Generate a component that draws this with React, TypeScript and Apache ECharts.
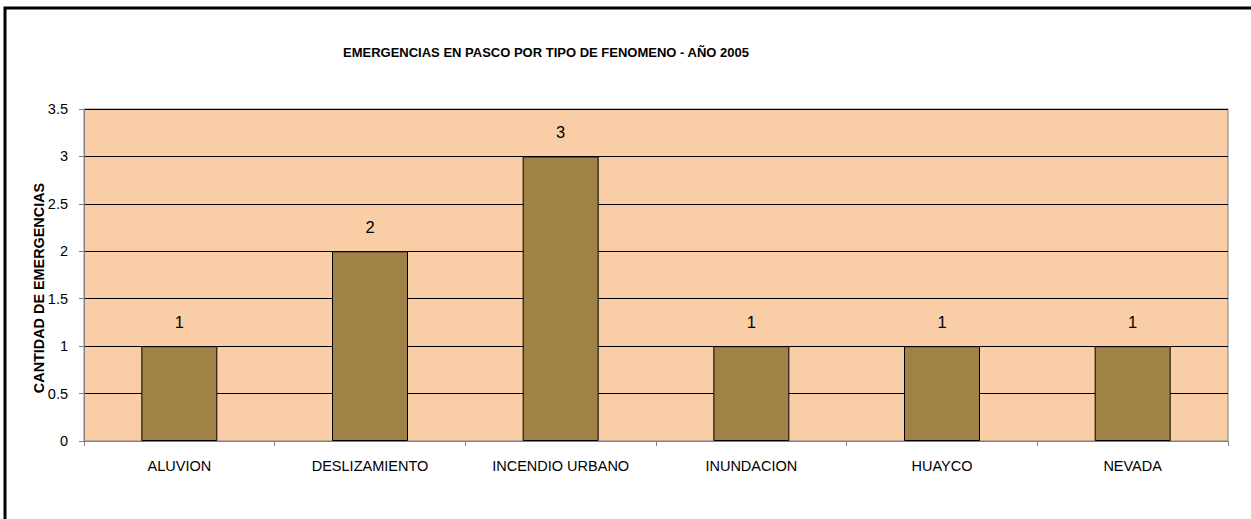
import React, { useEffect, useRef } from "react";
import * as echarts from "echarts";

const categories = ["ALUVION", "DESLIZAMIENTO", "INCENDIO URBANO", "INUNDACION", "HUAYCO", "NEVADA"];
const values = [1, 2, 3, 1, 1, 1];
const titleText = "EMERGENCIAS EN PASCO POR TIPO DE FENOMENO - AÑO 2005";
const yAxisName = "CANTIDAD DE EMERGENCIAS";

const FONT = "'Liberation Sans', Arial, Helvetica, sans-serif";

export default function App() {
  const ref = useRef<HTMLDivElement>(null);
  useEffect(() => {
    if (!ref.current) return;
    const chart = echarts.init(ref.current, undefined, { renderer: "svg" });
    chart.setOption({
      animation: false,
      backgroundColor: "#ffffff",
      textStyle: { fontFamily: FONT },
      title: {
        text: titleText,
        left: 343,
        top: 46,
        padding: 0,
        textStyle: { fontSize: 13, fontWeight: "bold", color: "#000", fontFamily: FONT },
      },
      graphic: [
        {
          type: "rect",
          shape: { x: 5, y: 8, width: 1400, height: 700 },
          style: { fill: "none", stroke: "#000", lineWidth: 3 },
          silent: true,
        },
        {
          type: "text",
          x: 39,
          y: 288,
          rotation: Math.PI / 2,
          style: {
            text: yAxisName,
            fontSize: 14.4,
            fontWeight: "bold",
            fill: "#000",
            fontFamily: FONT,
            align: "center",
            verticalAlign: "middle",
          },
          silent: true,
        },
      ],
      grid: {
        left: 84,
        top: 109,
        right: 23,
        bottom: 78,
        show: true,
        backgroundColor: "#F9CDA5",
        borderColor: "#808080",
        borderWidth: 1,
      },
      xAxis: {
        type: "category",
        data: categories,
        boundaryGap: true,
        axisLine: { show: true, lineStyle: { color: "#808080", width: 1 } },
        axisTick: { show: true, length: 5, interval: 0, lineStyle: { color: "#808080" } },
        axisLabel: { interval: 0, margin: 17, fontSize: 14.5, color: "#000", fontFamily: FONT },
        splitLine: { show: false },
      },
      yAxis: {
        type: "value",
        min: 0,
        max: 3.5,
        interval: 0.5,
        axisLine: { show: true, lineStyle: { color: "#808080", width: 1 } },
        axisTick: { show: true, length: 5, lineStyle: { color: "#808080" } },
        axisLabel: { margin: 16, fontSize: 14.5, color: "#000", fontFamily: FONT },
        splitLine: { show: true, lineStyle: { color: "#000", width: 1 } },
      },
      series: [
        {
          type: "bar",
          data: values,
          barWidth: 76,
          itemStyle: { color: "#A08246", borderColor: "#000", borderWidth: 1 },
          label: {
            show: true,
            position: "top",
            distance: 16,
            fontSize: 16.5,
            color: "#000",
            fontFamily: FONT,
          },
        },
      ],
    });
    return () => chart.dispose();
  }, []);
  return (
    <div
      ref={ref}
      style={{ position: "absolute", left: 0, top: 0, width: 1251, height: 519 }}
    />
  );
}
